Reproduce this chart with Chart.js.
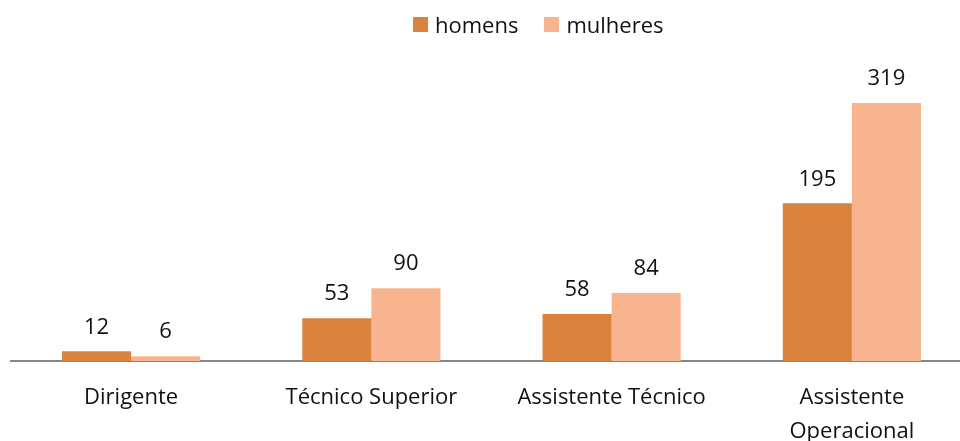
<!DOCTYPE html>
<html>
<head>
<meta charset="utf-8">
<script src="https://cdn.jsdelivr.net/npm/chart.js@4/dist/chart.umd.min.js"></script>
<style>
  html, body { margin: 0; padding: 0; background: #fff; overflow: hidden; }
  #wrap { position: relative; width: 960px; height: 441px; overflow: hidden; }
  #box { position: absolute; left: 0; top: 0; width: 975px; height: 441px; }
  #legend { position: absolute; left: 413px; top: 10px; height: 28px; display: flex; align-items: center;
            font-family: "Open Sans", sans-serif; font-size: 22px; color: #111; }
  #legend .item { display: flex; align-items: center; margin-right: 26px; }
  #legend .sw { width: 15px; height: 15px; margin-right: 7px; }
</style>
</head>
<body>
<div id="wrap">
  <div id="box"><canvas id="grafico"></canvas></div>
  <div id="legend"></div>
</div>
<script>
const categorias = ['Dirigente', 'Técnico Superior', 'Assistente Técnico', ['Assistente', 'Operacional']];
const series = ['homens', 'mulheres'];
const homens = [12, 53, 58, 195];
const mulheres = [6, 90, 84, 319];
const cores = ['#D9833F', '#F8B48F'];

const fonte = { family: 'Open Sans', size: 22 };

// legenda em HTML, posicionada como no original
const leg = document.getElementById('legend');
series.forEach((nome, i) => {
    leg.innerHTML += `<span class="item"><span class="sw" style="background:${cores[i]}"></span>${nome}</span>`;
});

// rótulos com os valores por cima das barras
const rotulos = {
    id: 'rotulos',
    afterDatasetsDraw(chart) {
        const c = chart.ctx;
        c.save();
        c.font = `${fonte.size}px ${fonte.family}`;
        c.fillStyle = '#111';
        c.textAlign = 'center';
        c.textBaseline = 'middle';
        chart.data.datasets.forEach((ds, i) => {
            chart.getDatasetMeta(i).data.forEach((bar, j) => {
                c.fillText(ds.data[j], bar.x, bar.y - 24);
            });
        });
        c.restore();
    }
};

new Chart(document.getElementById('grafico'), {
    type: 'bar',
    data: {
        labels: categorias,
        datasets: [
            { label: series[0], data: homens, backgroundColor: cores[0] },
            { label: series[1], data: mulheres, backgroundColor: cores[1] }
        ]
    },
    options: {
        responsive: true,
        maintainAspectRatio: false,
        animation: false,
        layout: { padding: { left: 11, right: 3, top: 78, bottom: 0 } },
        datasets: { bar: { barPercentage: 1, categoryPercentage: 0.575 } },
        plugins: { legend: { display: false }, tooltip: { enabled: false } },
        scales: {
            y: { display: false, min: 0, max: 350 },
            x: {
                grid: { display: false, drawTicks: false },
                border: { color: '#868686', width: 2 },
                ticks: { color: '#111', font: { family: 'Open Sans', size: 22, lineHeight: 1.55 }, padding: 20, maxRotation: 0 },
                afterFit: (s) => { s.height = 80; }
            }
        }
    },
    plugins: [rotulos]
});
</script>
</body>
</html>
